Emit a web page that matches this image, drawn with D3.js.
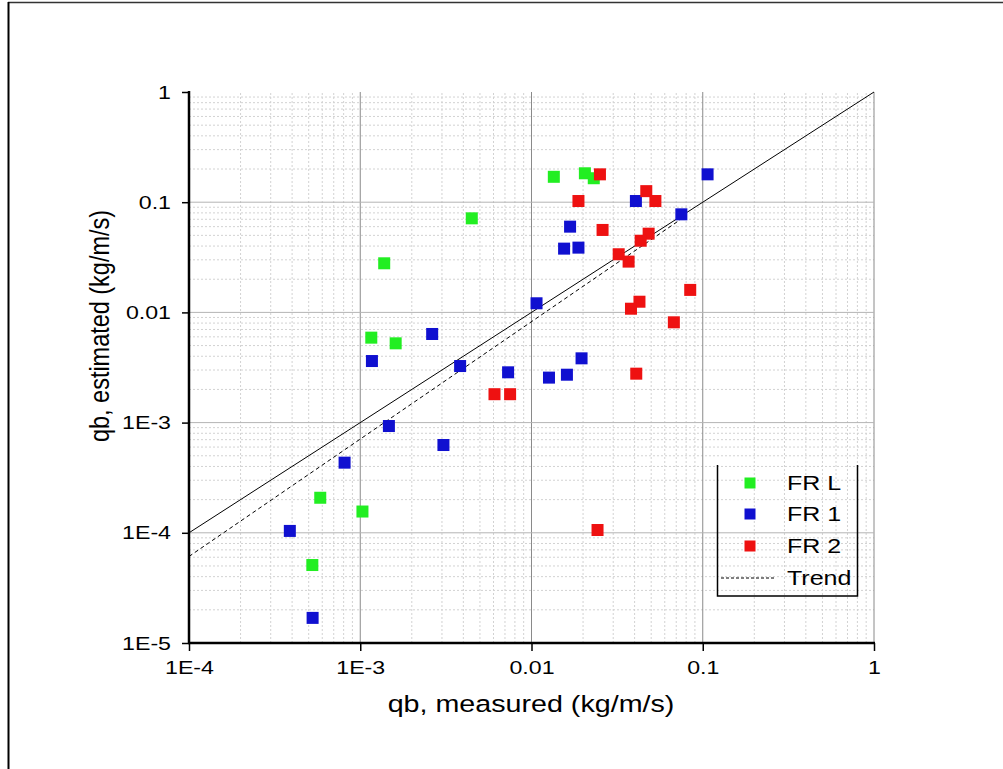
<!DOCTYPE html>
<html>
<head>
<meta charset="utf-8">
<script src="https://cdn.jsdelivr.net/npm/d3@7"></script>
<style>
  body { margin: 0; background: #fff; }
  text { font-family: "Liberation Sans", Arial, sans-serif; fill: #000; }
</style>
</head>
<body>
<script>
// measured vs estimated bed load
var frL_x = [0.0135, 0.0205, 0.0231, 0.00448, 0.00138, 0.00116, 0.00161, 0.000584, 0.00103, 0.000525];
var frL_y = [0.170, 0.183, 0.165, 0.0714, 0.0279, 0.0059, 0.00524, 0.000208, 0.000156, 0.000051];

var fr1_x = [0.1067, 0.0407, 0.075, 0.0168, 0.0155, 0.0188, 0.0107, 0.00263, 0.00117, 0.00383,
             0.0073, 0.01265, 0.0161, 0.0196, 0.00147, 0.00306, 0.00081, 0.000388, 0.000527];
var fr1_y = [0.179, 0.1025, 0.0776, 0.060, 0.0379, 0.0387, 0.0121, 0.00637, 0.00362, 0.00326,
             0.00286, 0.00256, 0.00272, 0.00383, 0.000931, 0.000626, 0.000433, 0.000104, 0.0000169];

var fr2_x = [0.0251, 0.0188, 0.0468, 0.0529, 0.026, 0.0483, 0.0434, 0.0323, 0.0369, 0.0845,
             0.0427, 0.0381, 0.0678, 0.0409, 0.00608, 0.0075, 0.0243];
var fr2_y = [0.179, 0.1025, 0.126, 0.1025, 0.056, 0.0518, 0.0447, 0.0337, 0.0289, 0.016,
             0.0125, 0.0108, 0.00813, 0.00278, 0.00181, 0.00181, 0.000106];

// 1:1 line and trend line end points
var lineX = [1e-4, 1];
var lineY = [1e-4, 1];
var trendX = [1e-4, 0.075];
var trendY = [6.1e-5, 0.0705];

var xTicks = [1e-4, 1e-3, 1e-2, 1e-1, 1];
var xTickLabels = ["1E-4", "1E-3", "0.01", "0.1", "1"];
var yTicks = [1e-5, 1e-4, 1e-3, 1e-2, 1e-1, 1];
var yTickLabels = ["1E-5", "1E-4", "1E-3", "0.01", "0.1", "1"];

var seriesNames = ["FR L", "FR 1", "FR 2"];
var seriesColors = ["#22ee22", "#1010d0", "#ee1111"];

var svgWidth = 1003;
var svgHeight = 769;
var stretch = 1.22;

var svg = d3.select("body")
  .append("svg")
  .attr("width", svgWidth)
  .attr("height", svgHeight);

// page frame (top and left edge only)
svg.append("line").attr("x1", 8).attr("x2", 1003).attr("y1", 2.5).attr("y2", 2.5)
  .attr("stroke", "#333").attr("stroke-width", 1.5);
svg.append("line").attr("x1", 8.5).attr("x2", 8.5).attr("y1", 2).attr("y2", 769)
  .attr("stroke", "#000").attr("stroke-width", 2);

var x = d3.scaleLog().domain([1e-4, 1]).range([189, 874]);
var y = d3.scaleLog().domain([1e-5, 1]).range([643, 92]);

// minor values (2..9 in every decade)
var xMinor = [], yMinor = [];
xTicks.slice(0, -1).forEach(function(d) {
  for (var k = 2; k <= 9; k++) xMinor.push(d * k);
});
yTicks.slice(0, -1).forEach(function(d) {
  for (var k = 2; k <= 9; k++) yMinor.push(d * k);
});

var grid = svg.append("g");
// minor grid
grid.selectAll(".vminor").data(xMinor).enter().append("line")
  .attr("x1", d => x(d)).attr("x2", d => x(d))
  .attr("y1", y(1e-5)).attr("y2", y(1))
  .attr("stroke", "#d2d2d2").attr("stroke-dasharray", "2,2");
grid.selectAll(".hminor").data(yMinor).enter().append("line")
  .attr("x1", x(1e-4)).attr("x2", x(1))
  .attr("y1", d => y(d)).attr("y2", d => y(d))
  .attr("stroke", "#d2d2d2").attr("stroke-dasharray", "2,2");
// major grid
grid.selectAll(".vmajor").data(xTicks.slice(1)).enter().append("line")
  .attr("x1", d => x(d)).attr("x2", d => x(d))
  .attr("y1", y(1e-5)).attr("y2", y(1))
  .attr("stroke", "#8a8a8a").attr("stroke-width", 1);
grid.selectAll(".hmajor").data(yTicks.slice(1, -1)).enter().append("line")
  .attr("x1", x(1e-4)).attr("x2", x(1))
  .attr("y1", d => y(d)).attr("y2", d => y(d))
  .attr("stroke", "#b4b4b4").attr("stroke-width", 1);

// 1:1 line and trend
svg.append("line")
  .attr("x1", x(lineX[0])).attr("y1", y(lineY[0]))
  .attr("x2", x(lineX[1])).attr("y2", y(lineY[1]))
  .attr("stroke", "#000").attr("stroke-width", 1);
svg.append("line")
  .attr("x1", x(trendX[0])).attr("y1", y(trendY[0]))
  .attr("x2", x(trendX[1])).attr("y2", y(trendY[1]))
  .attr("stroke", "#000").attr("stroke-width", 1).attr("stroke-dasharray", "4,3");

// points
var series = [
  d3.zip(frL_x, frL_y),
  d3.zip(fr1_x, fr1_y),
  d3.zip(fr2_x, fr2_y)
];
var ms = 12;
series.forEach(function(pts, i) {
  svg.append("g").selectAll("rect")
    .data(pts)
    .enter()
    .append("rect")
    .attr("x", d => x(d[0]) - ms / 2)
    .attr("y", d => y(d[1]) - ms / 2)
    .attr("width", ms)
    .attr("height", ms)
    .attr("fill", seriesColors[i]);
});

// axes
var bottomAxis = d3.axisBottom(x).tickValues(xTicks)
  .tickFormat((d, i) => xTickLabels[i]).tickSize(8).tickPadding(10);
var bottomMinor = d3.axisBottom(x).tickValues(xMinor).tickFormat("").tickSize(5);
var leftAxis = d3.axisLeft(y).tickValues(yTicks)
  .tickFormat((d, i) => yTickLabels[i]).tickSize(7);
var leftMinor = d3.axisLeft(y).tickValues(yMinor).tickFormat("").tickSize(4);

var gx = svg.append("g").attr("transform", "translate(0,643)");
gx.call(bottomMinor);
gx.call(bottomAxis);
gx.selectAll(".domain").remove();
gx.selectAll("line").attr("stroke", "#000").attr("stroke-width", 1.5);
gx.selectAll("text")
  .style("font-size", "19px")
  .attr("transform", "scale(" + stretch + ",1)");

var gy = svg.append("g").attr("transform", "translate(189,0)");
gy.call(leftMinor);
gy.call(leftAxis);
gy.selectAll(".domain").remove();
gy.selectAll("line").attr("stroke", "#000").attr("stroke-width", 1.5);
gy.selectAll("text")
  .style("font-size", "19px")
  .attr("x", -18 / stretch)
  .attr("transform", "scale(" + stretch + ",1)");

// axis lines
svg.append("line").attr("x1", 189).attr("x2", 189).attr("y1", 91).attr("y2", 644)
  .attr("stroke", "#000").attr("stroke-width", 2.5);
svg.append("line").attr("x1", 188).attr("x2", 875).attr("y1", 643).attr("y2", 643)
  .attr("stroke", "#000").attr("stroke-width", 2.5);

// axis titles
svg.append("text")
  .attr("transform", "translate(531,712) scale(" + stretch + ",1)")
  .attr("text-anchor", "middle")
  .style("font-size", "23.5px")
  .text("qb, measured (kg/m/s)");
svg.append("text")
  .attr("transform", "translate(109,326) scale(" + stretch + ",1) rotate(-90)")
  .attr("text-anchor", "middle")
  .attr("textLength", 232)
  .attr("lengthAdjust", "spacingAndGlyphs")
  .style("font-size", "23px")
  .text("qb, estimated (kg/m/s)");

// legend
var legend = svg.append("g");
legend.append("path")
  .attr("d", "M717.5,465 V596 H857.5 V465")
  .attr("fill", "none").attr("stroke", "#000").attr("stroke-width", 1.5);
var legRows = [483, 514, 546];
seriesNames.forEach(function(name, i) {
  legend.append("rect")
    .attr("x", 750 - 5.5).attr("y", legRows[i] - 5.5)
    .attr("width", 11).attr("height", 11)
    .attr("fill", seriesColors[i]);
  legend.append("text")
    .attr("transform", "translate(787," + (legRows[i] + 7) + ") scale(1.25,1)")
    .style("font-size", "20px")
    .text(name);
});
legend.append("line")
  .attr("x1", 721).attr("x2", 776).attr("y1", 578).attr("y2", 578)
  .attr("stroke", "#000").attr("stroke-width", 1).attr("stroke-dasharray", "3,2");
legend.append("text")
  .attr("transform", "translate(787,585) scale(1.25,1)")
  .style("font-size", "20px")
  .text("Trend");
</script>
</body>
</html>
